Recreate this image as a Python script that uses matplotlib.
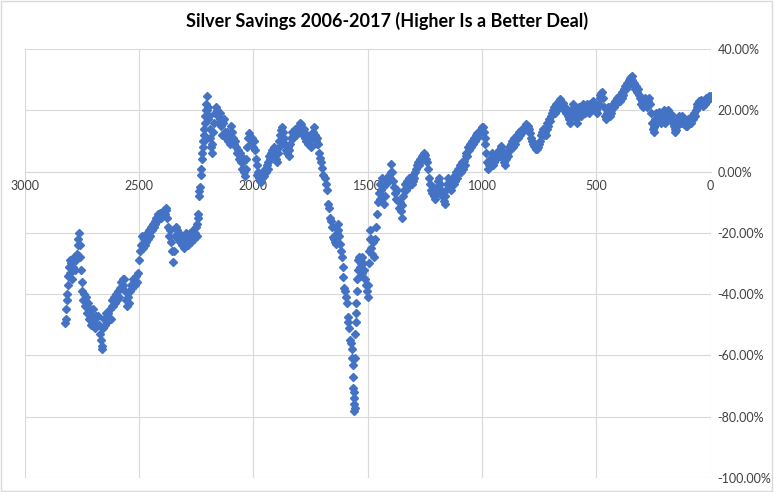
import matplotlib
matplotlib.use("Agg")
import matplotlib.pyplot as plt
from matplotlib.patches import Rectangle
from matplotlib.ticker import FuncFormatter, MultipleLocator

# (days before today, savings %), oldest first
seg_2006 = [(2822, -49.5), (2820, -48), (2818, -45), (2816, -42), (2814, -40), (2812, -37), (2810, -34), (2807, -31),
            (2804, -29), (2800, -33), (2796, -30), (2792, -35), (2788, -31), (2784, -28), (2780, -32), (2776, -29),
            (2772, -27), (2769, -24), (2766, -22), (2763, -20), (2760, -24), (2757, -28), (2754, -32), (2751, -36),
            (2748, -39), (2744, -42), (2740, -40), (2736, -44), (2732, -41), (2728, -46), (2724, -43), (2720, -48),
            (2716, -45), (2712, -50), (2708, -46), (2704, -49), (2700, -45), (2696, -48), (2692, -51), (2688, -47),
            (2684, -50), (2680, -47), (2676, -50), (2672, -53), (2668, -55), (2664, -58), (2660, -57), (2656, -51),
            (2652, -48), (2648, -50), (2644, -46), (2640, -49), (2636, -46), (2632, -48), (2628, -45), (2624, -48),
            (2620, -44), (2616, -42), (2612, -44), (2608, -41), (2604, -43), (2600, -40), (2596, -42), (2592, -39),
            (2588, -41), (2584, -38), (2580, -36), (2576, -38), (2572, -35), (2568, -37), (2564, -35), (2560, -39),
            (2556, -42), (2552, -44), (2548, -41), (2544, -43), (2540, -39), (2536, -37), (2532, -38), (2528, -35),
            (2524, -37), (2520, -35), (2516, -37), (2512, -34), (2508, -36), (2504, -33), (2500, -29), (2496, -26),
            (2492, -24), (2488, -21)]

seg_2007 = [(2484, -25), (2480, -22), (2476, -24), (2472, -21), (2468, -23), (2464, -20), (2460, -22), (2456, -19),
            (2452, -21), (2448, -18), (2444, -19), (2440, -17), (2436, -18), (2432, -16), (2428, -17), (2424, -15),
            (2420, -16), (2416, -14), (2412, -15), (2408, -13.5), (2404, -15), (2400, -13.5), (2396, -14), (2392, -12.5),
            (2388, -14), (2384, -12.5), (2380, -12), (2376, -15), (2372, -18), (2368, -21), (2364, -19), (2360, -23),
            (2356, -26), (2352, -29.5), (2348, -26), (2344, -21), (2340, -18), (2336, -21), (2332, -19), (2328, -22),
            (2324, -20), (2320, -23), (2316, -21), (2312, -24), (2308, -22), (2304, -25), (2300, -22), (2296, -20),
            (2292, -23), (2288, -21), (2284, -24), (2280, -22), (2276, -20), (2272, -23), (2268, -21), (2264, -19),
            (2260, -22), (2256, -20), (2252, -18), (2248, -21), (2245, -17), (2242, -15), (2240, -14)]

seg_2008 = [(2238, -8), (2236, -6.5), (2233, -5), (2230, -1), (2228, 1), (2226, 4), (2224, 6), (2222, 8), (2220, 10),
            (2218, 12), (2216, 10), (2214, 14), (2212, 16), (2210, 18), (2208, 20), (2206, 22), (2204, 24.5), (2202, 20),
            (2200, 17), (2197, 21), (2194, 18), (2191, 14), (2188, 11), (2185, 8), (2182, 6), (2179, 9), (2176, 13),
            (2172, 16), (2168, 19), (2164, 21), (2160, 20), (2156, 18), (2152, 16), (2148, 19), (2144, 17), (2140, 15),
            (2136, 12), (2132, 16), (2128, 17), (2124, 13), (2120, 11), (2116, 13), (2112, 10), (2108, 12), (2104, 9),
            (2100, 12), (2096, 15), (2092, 13), (2088, 11), (2084, 9), (2080, 10), (2076, 8), (2072, 6), (2068, 7),
            (2064, 4), (2060, 6), (2056, 3), (2052, 5), (2048, 1), (2044, 3), (2040, 0), (2037, -1.3), (2034, 1),
            (2030, 4), (2026, 8), (2022, 11), (2018, 12.5), (2014, 11), (2010, 9), (2006, 11), (2002, 8), (1998, 10),
            (1994, 7), (1990, 4), (1986, 2), (1982, -1), (1978, 0), (1974, -2), (1970, -3), (1966, -3.5), (1962, -2),
            (1958, 0), (1954, -1.5), (1950, 1), (1946, 0)]

seg_2009 = [(1942, 2), (1938, 1), (1934, 3), (1930, 5), (1926, 4), (1922, 6), (1918, 7), (1914, 5), (1910, 8),
            (1906, 6), (1902, 4), (1898, 3), (1894, 6), (1890, 8), (1886, 10), (1882, 12), (1878, 13.5), (1874, 14.5),
            (1870, 13), (1866, 11), (1862, 9), (1858, 7), (1854, 6), (1850, 8), (1846, 5), (1842, 7), (1838, 9),
            (1834, 11), (1830, 13), (1826, 11), (1822, 13), (1818, 14), (1814, 12), (1810, 14), (1806, 13), (1802, 15),
            (1798, 14), (1794, 16), (1790, 15.5), (1786, 13), (1782, 12), (1778, 14), (1774, 11), (1770, 10), (1766, 12),
            (1762, 9), (1758, 11), (1754, 10), (1750, 8), (1746, 11), (1742, 12), (1738, 13), (1735, 14.4), (1731, 12),
            (1727, 10), (1723, 11), (1720, 9)]

seg_2011 = [(1717, 9), (1713, 6), (1709, 4.5), (1705, 3), (1700, 1.3), (1694, -1), (1687, -2), (1682, -4), (1678, -6),
            (1674, -10.5), (1670, -12), (1665, -15), (1661, -16), (1657, -18), (1652, -21.5), (1648, -22), (1644, -23),
            (1639, -23.5), (1635, -20), (1632, -17), (1629, -19), (1626, -21), (1622, -23.5), (1618, -26), (1613, -28),
            (1610, -31), (1608, -34.5), (1604, -38), (1600, -39), (1596, -41), (1591, -43), (1588, -47.5), (1585, -49),
            (1582, -51), (1578, -55), (1574, -56), (1570, -58), (1567, -61), (1566, -63), (1565, -67), (1563, -70.5),
            (1562, -72), (1561, -74), (1560, -76), (1559, -78), (1557, -77), (1556, -61), (1554, -53), (1552, -49),
            (1551, -46), (1549, -43), (1547, -39), (1545, -35), (1543, -32), (1541, -29), (1538, -28), (1535, -31),
            (1532, -34), (1529, -30), (1526, -33), (1523, -28), (1520, -30), (1516, -32), (1512, -35), (1508, -37),
            (1504, -39), (1500, -41), (1497, -37), (1495, -30), (1493, -26), (1491, -22), (1490, -19), (1487, -22),
            (1484, -25), (1480, -27), (1476, -23), (1472, -28), (1468, -22), (1464, -18), (1461, -14)]

seg_2012 = [(1456, -10), (1452, -7), (1448, -9), (1444, -4), (1440, -6), (1436, -2), (1432, -5), (1428, -10.5),
            (1424, -8), (1420, -4), (1416, -2), (1412, -3), (1408, -1), (1404, -2), (1400, 0), (1396, 2.6), (1392, 0),
            (1388, -3), (1384, -5), (1380, -7), (1376, -9), (1372, -6), (1368, -9.5), (1364, -12), (1360, -10),
            (1356, -13), (1352, -15), (1348, -11), (1344, -8), (1340, -6), (1336, -4), (1332, -6), (1328, -3),
            (1324, -5), (1320, -2), (1316, -4), (1312, -2), (1308, -4), (1304, -3), (1300, -1), (1296, -2), (1292, 0),
            (1288, 1), (1284, 2), (1280, 3), (1276, 2), (1272, 4), (1268, 3.5), (1264, 5), (1260, 4.5), (1256, 5.5),
            (1252, 6), (1248, 5.5), (1244, 4), (1240, 3), (1236, 1), (1232, -2), (1228, -4), (1224, -6), (1220, -7),
            (1216, -5), (1212, -8), (1208, -6), (1204, -9), (1200, -7), (1196, -5), (1192, -3), (1188, -2), (1184, -4),
            (1180, -6), (1176, -8), (1172, -7), (1168, -9.5), (1164, -10.5), (1160, -8), (1156, -6), (1152, -4),
            (1148, -2), (1144, -5), (1140, -3), (1136, -6), (1132, -4), (1128, -2), (1124, -4), (1120, -1), (1116, -3),
            (1112, 0), (1108, -2), (1104, 1), (1100, 0), (1096, 2), (1092, 0), (1088, 3), (1084, 1), (1080, 3.5),
            (1076, 2), (1072, 5), (1068, 6), (1064, 5), (1060, 8), (1056, 7), (1052, 9), (1048, 8), (1044, 10),
            (1040, 9), (1036, 11), (1032, 10), (1028, 12), (1024, 11), (1020, 12.5), (1016, 12), (1012, 13),
            (1008, 12.5), (1004, 14), (1000, 14.5), (996, 14.4), (992, 13)]

seg_2014 = [(988, 11), (985, 9), (982, 6), (978, 3), (974, 1), (970, 2), (966, 4), (962, 3), (958, 6), (954, 4),
            (950, 2), (946, 3), (942, 5), (938, 4), (934, 6), (930, 5), (926, 7), (922, 5), (918, 8.5), (914, 7),
            (910, 5), (906, 3), (902, 4), (898, 2), (894, 4), (890, 6), (886, 5), (882, 8), (878, 7), (874, 9), (870, 10),
            (866, 8), (862, 10), (858, 11), (854, 9), (850, 11), (846, 12), (842, 11), (838, 13), (834, 12), (830, 13.5),
            (826, 13), (822, 14), (818, 13.5), (814, 14.5), (810, 15), (806, 15.5), (802, 15), (798, 15), (794, 14),
            (790, 12.5), (786, 11), (782, 10), (778, 9), (774, 8.5), (770, 8), (766, 7.5), (762, 7.5), (758, 7.5),
            (754, 8), (750, 9), (746, 10), (742, 12), (738, 13), (734, 14), (730, 12), (726, 13), (722, 12), (718, 14),
            (714, 16), (710, 15), (706, 17), (702, 16.6), (698, 18), (694, 19), (690, 20), (686, 21), (682, 19),
            (678, 22), (674, 20), (670, 21), (666, 22), (662, 23), (658, 23.8), (654, 22), (650, 21), (646, 22.5),
            (642, 20), (638, 21), (634, 19), (630, 20), (626, 18), (622, 19), (618, 17), (614, 16), (610, 18), (606, 20),
            (602, 22), (598, 21), (594, 19), (590, 17), (586, 16), (582, 18), (578, 20), (574, 21), (570, 19), (566, 18),
            (562, 20), (558, 22), (554, 21), (550, 19), (546, 21), (542, 22), (538, 20), (534, 19), (530, 21), (526, 22),
            (522, 20), (518, 21), (514, 23), (510, 22), (506, 21), (502, 20)]

seg_2016 = [(498, 19), (494, 21), (490, 22), (486, 24), (482, 25), (478, 25.5), (474, 26), (470, 24), (466, 21),
            (462, 18), (458, 17), (454, 19), (450, 21), (446, 20), (442, 18), (438, 19), (434, 20), (430, 21), (426, 22),
            (422, 21), (418, 23), (414, 22), (410, 24), (406, 23), (402, 24.5), (398, 23), (394, 25), (390, 24),
            (386, 26), (382, 25), (378, 27), (374, 28), (370, 27), (366, 29), (362, 28), (358, 30), (354, 30.5),
            (350, 31), (346, 31.3), (342, 30), (338, 28.5), (334, 29), (330, 27), (326, 28), (322, 26), (318, 27),
            (314, 25), (310, 24), (306, 22), (302, 23), (298, 21), (294, 23), (290, 22), (286, 24), (282, 22), (278, 21),
            (274, 23), (270, 24), (266, 22), (262, 19), (258, 16), (254, 14), (250, 13), (246, 14.5), (242, 17),
            (238, 19), (234, 16), (230, 18), (226, 19.5), (222, 18), (218, 16), (214, 17), (210, 19), (206, 20),
            (202, 18), (198, 16), (194, 17), (190, 19), (186, 20), (182, 19), (178, 18), (174, 17), (170, 18.5),
            (166, 16), (162, 15), (158, 14), (154, 13), (150, 13.5), (146, 15), (142, 17), (138, 18), (134, 17),
            (130, 16), (126, 18), (122, 17), (118, 15.5), (114, 16), (110, 15), (106, 16.5), (102, 15), (98, 17),
            (94, 16), (90, 17.5), (86, 16), (82, 18), (78, 17), (74, 19), (70, 18), (66, 20), (62, 21), (58, 22),
            (54, 21), (50, 23), (46, 22), (42, 23.5), (38, 22), (34, 21.5), (30, 23), (26, 22), (22, 24), (18, 23),
            (14, 24), (10, 23.5), (6, 24.5), (2, 24), (0, 24.5)]

title = "Silver Savings 2006-2017 (Higher Is a Better Deal)"
x_ticks = [3000, 2500, 2000, 1500, 1000, 500, 0]

points = seg_2006 + seg_2007 + seg_2008 + seg_2009 + seg_2011 + seg_2012 + seg_2014 + seg_2016
days = [p[0] for p in points]
savings = [p[1] for p in points]

plt.rcParams["font.family"] = ["Lato", "DejaVu Sans"]

fig = plt.figure(figsize=(7.74, 4.92), dpi=100)
ax = fig.add_axes([0.0319, 0.0285, 0.8863, 0.8719])

ax.plot(days, savings, linestyle="none", marker="D", markersize=4.2,
        color="#4472C4", markeredgecolor="#4472C4", zorder=3)

ax.set_xlim(3000, 0)
ax.set_ylim(-100, 40)
ax.set_xticks(x_ticks)
ax.yaxis.set_major_locator(MultipleLocator(20))
ax.yaxis.set_major_formatter(FuncFormatter(lambda v, _: f"{v:.2f}%"))
ax.yaxis.tick_right()

for s in ["top", "left", "right"]:
    ax.spines[s].set_visible(False)
ax.spines["bottom"].set_position(("data", 0))
ax.spines["bottom"].set_color("#D9D9D9")
ax.spines["bottom"].set_linewidth(0.8)

ax.grid(True, color="#D9D9D9", linewidth=0.8, zorder=0)
ax.set_axisbelow(True)
ax.tick_params(axis="both", length=0, labelsize=9, labelcolor="#404040")
ax.tick_params(axis="x", pad=6)
ax.tick_params(axis="y", pad=5)

fig.text(0.5, 0.958, title, ha="center", va="center", fontsize=13, fontweight="bold", color="#000000")

fig.patches.append(Rectangle((0.001, 0.002), 0.997, 0.995, transform=fig.transFigure,
                             fill=False, edgecolor="#D9D9D9", linewidth=1))

fig.savefig("out.png", dpi=100)
